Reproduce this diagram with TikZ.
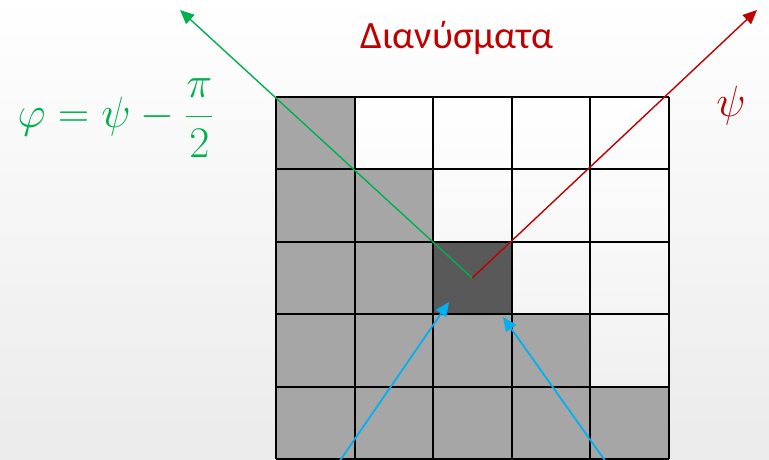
\documentclass[tikz,border=0pt]{standalone}
\usepackage{fontspec}
\setmainfont{Carlito}
\usetikzlibrary{arrows.meta, positioning}
\definecolor{VectorGreen}{RGB}{0,176,80}
\definecolor{VectorRed}{RGB}{192,0,0}
\definecolor{VectorBlue}{RGB}{0,176,240}
\definecolor{CellGray}{RGB}{166,166,166}
\definecolor{CellDark}{RGB}{89,89,89}

\begin{document}
\begin{tikzpicture}[x=0.02cm, y=-0.02cm, font=\fontsize{22}{26}\selectfont,
	rejilla/.style={line width=1.1pt, black},
	vec/.style={-{Triangle[length=8pt, width=7pt]}, line width=0.8pt},
	formula/.style={font=\fontsize{25.5}{30}\selectfont}]

	\useasboundingbox (0,0) rectangle (769,460);
	\shade[top color=white, bottom color=gray!16] (0,0) rectangle (769,460);

	% celdas
	\shade[top color=white, bottom color=gray!14] (276,97) rectangle (669,459);
	\foreach \c/\r in {0/0, 0/1, 1/1, 0/2, 1/2, 0/3, 1/3, 2/3, 3/3,
		0/4, 1/4, 2/4, 3/4, 4/4}
		\fill[CellGray] (276+\c*78.6, 97+\r*72.4) rectangle ++(78.6,72.4);
	\node[fill=CellDark, inner sep=0pt, minimum width=1.572cm,
		minimum height=1.448cm] (pixel) at (472.2,278) {};

	\foreach \i in {0,...,5}
		\draw[rejilla] (276+\i*78.6,97) -- (276+\i*78.6,459);
	\foreach \j in {0,...,5}
		\draw[rejilla] (276,97+\j*72.4) -- (669,97+\j*72.4);

	\coordinate (tipG) at (180,10);
	\coordinate (tipR) at (757,10);
	\coordinate (pieA) at (339,462);
	\coordinate (pieB) at (606,462);
	\coordinate (puntaA) at (449,302);
	\coordinate (puntaB) at (503,317);

	\draw[vec, VectorGreen] (pixel.center) -- (tipG);
	\draw[vec, VectorRed] (pixel.center) -- (tipR);
	\draw[vec, VectorBlue, line width=1pt] (pieA) -- (puntaA);
	\draw[vec, VectorBlue, line width=1pt] (pieB) -- (puntaB);

	\node[text=VectorRed] (titulo) at (457,38) {Διανύσματα};
	\node[formula, text=VectorGreen] (fase) at (116,118)
		{$\displaystyle\varphi=\psi-\frac{\pi}{2}$};
	\node[formula, text=VectorRed] (psi) at (731,106) {$\psi$};
\end{tikzpicture}
\end{document}
